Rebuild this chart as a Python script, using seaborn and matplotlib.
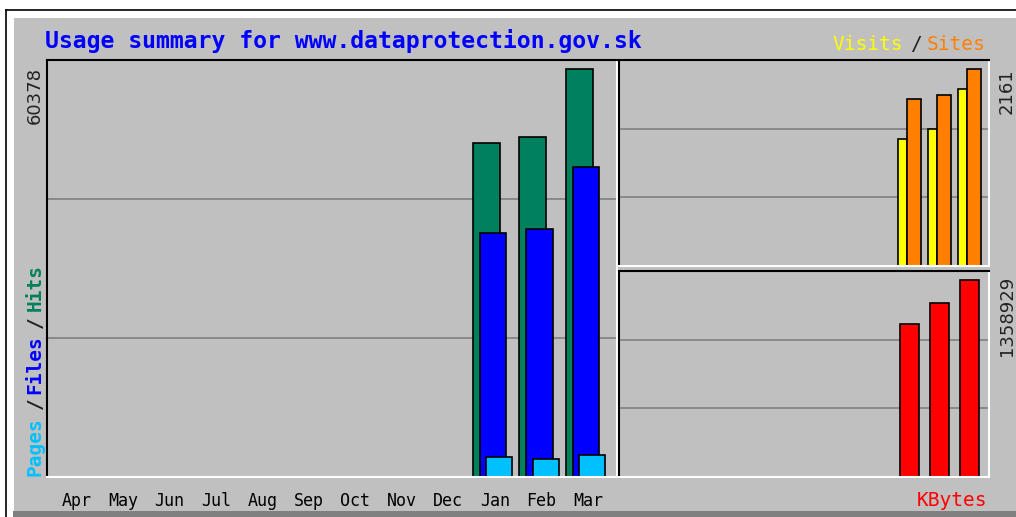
import matplotlib
matplotlib.use("Agg")
import matplotlib.pyplot as plt
import seaborn as sns
import pandas as pd
from matplotlib.patches import Rectangle
from matplotlib.lines import Line2D

# ---------------- data ----------------
months = ["Apr", "May", "Jun", "Jul", "Aug", "Sep", "Oct", "Nov", "Dec", "Jan", "Feb", "Mar"]
hits = [0, 0, 0, 0, 0, 0, 0, 0, 0, 49430, 50320, 60378]
files = [0, 0, 0, 0, 0, 0, 0, 0, 0, 36110, 36700, 45880]
pages = [0, 0, 0, 0, 0, 0, 0, 0, 0, 2960, 2660, 3260]
visits = [0, 0, 0, 0, 0, 0, 0, 0, 0, 1393, 1503, 1942]
sites = [0, 0, 0, 0, 0, 0, 0, 0, 0, 1832, 1876, 2161]
kbytes = [0, 0, 0, 0, 0, 0, 0, 0, 0, 1055400, 1200300, 1358929]
title = "Usage summary for www.dataprotection.gov.sk"

# ---------------- style ----------------
BG = "#C0C0C0"
C_HITS, C_FILES, C_PAGES = "#00805C", "#0000FF", "#00C0FF"
C_VISITS, C_SITES, C_KB = "#FFFF00", "#FF8000", "#FF0000"
GRID = "#808080"
MONO = "DejaVu Sans Mono"

W, H = 1016, 517
fig = plt.figure(figsize=(W / 100, H / 100), dpi=100)
fig.patch.set_facecolor("white")


def fx(x):
    return x / W


def fy(y):
    return 1 - y / H


def box(x0, y0, x1, y1):
    return [fx(x0), fy(y1), (x1 - x0) / W, (y1 - y0) / H]


# outer frame
fig.add_artist(Rectangle((fx(14), fy(511)), 1.0, (511 - 18) / H, transform=fig.transFigure,
                         facecolor=BG, edgecolor="none", zorder=-5))
fig.add_artist(Rectangle((fx(13), 0), 1.0, (517 - 511) / H, transform=fig.transFigure,
                         facecolor="#808080", edgecolor="none", zorder=-5))
fig.add_artist(Line2D([fx(6), fx(6)], [fy(10), 0], transform=fig.transFigure, color="black", lw=1.2, zorder=-4))
fig.add_artist(Line2D([fx(6), 1], [fy(10), fy(10)], transform=fig.transFigure, color="black", lw=1.2, zorder=-4))

ax_main = fig.add_axes(box(47, 60, 617, 477))
ax_vs = fig.add_axes(box(619, 60, 989, 266))
ax_kb = fig.add_axes(box(619, 271, 989, 477))


def bars(ax, vals, offset, width, color):
    idx = [i for i, v in enumerate(vals) if v > 0]
    df = pd.DataFrame({"x": [i + offset for i in idx], "y": [vals[i] for i in idx]})
    sns.barplot(data=df, x="x", y="y", native_scale=True, width=width, color=color,
                saturation=1, edgecolor="black", linewidth=1.2, errorbar=None, ax=ax, zorder=2)


def style(ax, ymax, xlim):
    ax.set_facecolor(BG)
    ax.set_xlim(*xlim)
    ax.set_ylim(0, ymax)
    for s in ["top", "left"]:
        ax.spines[s].set_color("black")
        ax.spines[s].set_linewidth(1.5)
    for s in ["bottom", "right"]:
        ax.spines[s].set_color("white")
        ax.spines[s].set_linewidth(1.5)
    ax.axhline(ymax / 3, color=GRID, lw=1.2, zorder=0.5)
    ax.axhline(2 * ymax / 3, color=GRID, lw=1.2, zorder=0.5)
    ax.set_yticks([])
    ax.set_xlabel("")
    ax.set_ylabel("")


# main panel: hits / files / pages
bars(ax_main, hits, 0.29, 0.58, C_HITS)
bars(ax_main, files, 0.43, 0.56, C_FILES)
bars(ax_main, pages, 0.56, 0.56, C_PAGES)
style(ax_main, 61710, (-0.161, 12.097))
ax_main.set_xticks([i + 0.47 for i in range(12)], labels=months)
ax_main.tick_params(axis="x", length=0, pad=11)
for t in ax_main.get_xticklabels():
    t.set_fontfamily(MONO)
    t.set_fontsize(12)
    t.set_color("black")

# visits / sites
bars(ax_vs, visits, 0.15, 0.30, C_VISITS)
bars(ax_vs, sites, 0.535, 0.47, C_SITES)
style(ax_vs, 2260, (-0.3, 12.03))
ax_vs.set_xticks([])

# kbytes
bars(ax_kb, kbytes, 0.383, 0.63, C_KB)
style(ax_kb, 1421000, (-0.3, 12.03))
ax_kb.set_xticks([])

# ---------------- texts ----------------
fig.text(fx(45), fy(41), title, family=MONO, weight="bold", size=16.7, color="#0000FF",
         ha="left", va="center")

# Visits / Sites legend
fig.text(fx(832), fy(45), "Visits", family=MONO, size=14, color=C_VISITS, ha="left", va="center")
fig.text(fx(916), fy(45), "/", family=MONO, size=14, color="#202020", ha="center", va="center")
fig.text(fx(927), fy(45), "Sites", family=MONO, size=14, color=C_SITES, ha="left", va="center")

# KBytes label
fig.text(fx(987), fy(501), "KBytes", family=MONO, size=14, color=C_KB, ha="right", va="center")

# Pages / Files / Hits (rotated)
fig.text(fx(35), fy(476), "Pages", family=MONO, weight="bold", size=14, color=C_PAGES,
         rotation=90, ha="center", va="bottom")
fig.text(fx(35), fy(403), "/", family=MONO, weight="bold", size=14, color="#202020",
         rotation=90, ha="center", va="center")
fig.text(fx(35), fy(394), "Files", family=MONO, weight="bold", size=14, color=C_FILES,
         rotation=90, ha="center", va="bottom")
fig.text(fx(35), fy(322), "/", family=MONO, weight="bold", size=14, color="#202020",
         rotation=90, ha="center", va="center")
fig.text(fx(35), fy(311), "Hits", family=MONO, weight="bold", size=14, color=C_HITS,
         rotation=90, ha="center", va="bottom")

# max values
fig.text(fx(35), fy(67), f"{max(hits)}", family="DejaVu Sans", size=13, color="#222222",
         rotation=90, ha="center", va="top")
fig.text(fx(1007), fy(68), f"{max(sites)}", family="DejaVu Sans", size=13, color="#222222",
         rotation=90, ha="center", va="top")
fig.text(fx(1007), fy(276), f"{max(kbytes)}", family="DejaVu Sans", size=13, color="#222222",
         rotation=90, ha="center", va="top")

fig.savefig("out.png", dpi=100, facecolor=fig.get_facecolor())
